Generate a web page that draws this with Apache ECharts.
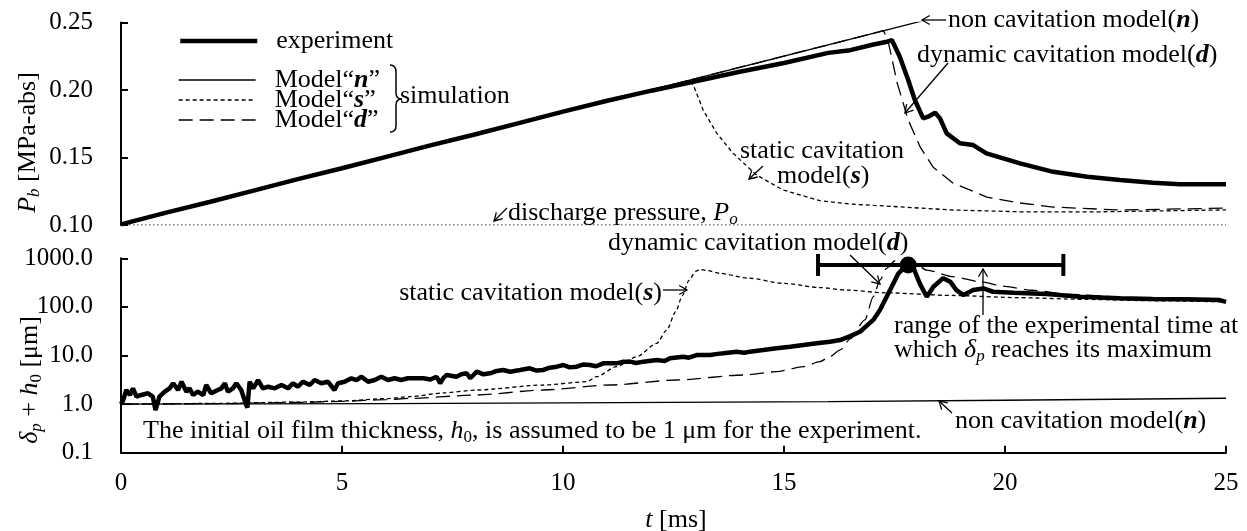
<!DOCTYPE html>
<html><head><meta charset="utf-8">
<script src="https://cdn.jsdelivr.net/npm/echarts@6/dist/echarts.min.js"></script>
<style>html,body{margin:0;padding:0;background:#fff}#c{width:1247px;height:531px}</style>
</head><body><div id="c"></div>
<script>
const FONT = '"Liberation Serif","Times New Roman",serif';

// ---- top panel: P_b [MPa-abs] vs t [ms]
const tTopExp = [0, 1, 2, 3, 4, 5, 6, 7, 8, 9, 10, 11, 12, 13, 14, 15, 16, 16.5, 17, 17.3, 17.44, 17.62, 17.81, 17.96, 18.15, 18.26, 18.42, 18.53, 18.68, 18.98, 19.28, 19.58, 20.34, 21.09, 21.86, 22.6, 23.35, 23.96, 25];
const pTopExp = [0.1005, 0.109, 0.117, 0.1255, 0.134, 0.142, 0.1505, 0.159, 0.167, 0.1755, 0.184, 0.192, 0.1995, 0.2065, 0.2135, 0.220, 0.2275, 0.2295, 0.2335, 0.2355, 0.237, 0.2247, 0.2074, 0.1926, 0.179, 0.1802, 0.1832, 0.179, 0.1679, 0.1605, 0.1592, 0.1531, 0.1457, 0.1394, 0.1357, 0.1333, 0.1313, 0.1301, 0.1301];
const tTopN = [0, 25];
const pTopN = [0.100, 0.3085];
const tTopS = [0, 12.85, 12.95, 13.17, 13.48, 13.85, 14.38, 14.98, 15.81, 16.5, 17.32, 18.82, 20.34, 22, 25];
const pTopS = [0.1, 0.2072, 0.2035, 0.1852, 0.1679, 0.1531, 0.137, 0.1259, 0.118, 0.1155, 0.114, 0.1111, 0.1098, 0.1097, 0.1112];
const tTopD = [0, 17.25, 17.35, 17.56, 17.81, 18.08, 18.37, 18.82, 19.59, 20.34, 21.09, 22.6, 25];
const pTopD = [0.1, 0.2439, 0.237, 0.2053, 0.1778, 0.1578, 0.143, 0.1311, 0.1207, 0.1163, 0.1133, 0.1111, 0.1125];
const tPo = [0, 25];
const pPo = [0.1, 0.1];

// ---- bottom panel: delta_p + h0 [um] (log) vs t [ms]
const tBotExp = [0.00,0.05,0.12,0.20,0.27,0.35,0.46,0.61,0.72,0.78,0.82,0.87,0.99,1.10,1.18,1.29,1.37,1.48,1.55,1.63,1.74,1.86,1.93,2.04,2.19,2.27,2.35,2.42,2.53,2.61,2.72,2.82,2.86,2.91,2.99,3.10,3.21,3.33,3.48,3.63,3.78,3.89,4.00,4.12,4.27,4.38,4.53,4.68,4.83,4.91,5.06,5.21,5.33,5.44,5.59,5.74,5.89,6.04,6.19,6.34,6.49,6.68,6.84,7.00,7.14,7.22,7.30,7.37,7.59,7.70,7.82,7.90,8.05,8.20,8.35,8.50,8.65,8.80,9.03,9.25,9.40,9.55,9.70,9.86,10.01,10.15,10.31,10.45,10.61,10.75,10.91,11.21,11.35,11.52,11.65,11.82,12.12,12.30,12.42,12.72,12.85,13.02,13.33,13.50,13.63,13.93,14.10,14.23,14.53,14.83,15.14,15.44,15.74,16.04,16.27,16.50,16.72,17.02,17.17,17.40,17.59,17.80,17.92,18.07,18.23,18.38,18.60,18.76,18.90,19.06,19.28,19.51,19.73,20.19,20.94,21.70,22.15,22.60,23.35,24.10,24.86,25.00];
const vBotExp = [1.00,1.21,1.95,1.54,2.11,1.42,1.54,1.67,1.42,0.75,0.70,1.42,1.80,2.11,2.68,1.95,2.89,1.80,2.11,1.54,1.80,1.54,2.47,1.67,1.95,2.11,2.68,1.80,2.11,2.68,1.95,1.04,0.85,2.89,2.11,3.13,2.11,2.28,2.11,2.47,2.11,2.68,2.28,2.89,2.47,3.13,2.68,2.89,1.95,2.68,2.89,3.40,3.13,3.66,2.89,3.13,3.66,3.13,3.40,3.13,3.40,3.39,3.39,3.2,3.66,2.68,3.5,3.97,3.66,4.1,4.30,3.40,4.64,4.1,4.30,4.8,5.03,4.64,5.03,5.45,4.9,5.03,5.6,5.89,6.38,5.7,5.89,6.5,6.38,6.0,6.9,6.9,7.4,7.47,7.0,7.47,8.08,7.7,8.75,9.46,9.0,10.2,10.2,10.8,11.1,12.0,11.4,12.0,13.0,14.1,15.2,16.4,17.8,19.2,20.8,25,30.8,54,86,222,490,760,670,305,162,260,390,330,222,175,222,240,205,196,184,162,157,150,145,143,138,127];
const tBotN = [0, 6, 10, 16, 20, 25];
const vBotN = [1.0, 1.02, 1.06, 1.12, 1.2, 1.32];
const tBotS = [0, 2, 4, 5, 6, 6.54, 7.3, 8.05, 9.55, 10.54, 10.76, 11.21, 11.67, 12.12, 12.35, 12.55, 12.7, 12.85, 13.0, 13.1, 13.25, 13.55, 14.2, 15.0, 15.8, 16.4, 17.3, 18.8, 20.3, 21.8, 23.3, 25];
const vBotS = [1.0, 1.03, 1.1, 1.16, 1.3, 1.42, 1.7, 1.95, 2.47, 2.89, 3.66, 5.89, 9.46, 17.8, 33.6, 80, 170, 350, 540, 590, 560, 490, 390, 305, 250, 222, 195, 172, 155, 143, 134, 127];
const tBotD = [0, 2, 4, 5, 6, 6.54, 8.05, 9.55, 11.06, 12.57, 14.08, 14.83, 15.44, 15.81, 16.04, 16.27, 16.5, 16.83, 17.02, 17.17, 17.32, 17.51, 17.7, 17.95, 18.23, 18.83, 19.43, 20, 20.6, 21.5, 23, 25];
const vBotD = [1.0, 1.02, 1.08, 1.14, 1.24, 1.31, 1.54, 1.95, 2.47, 3.13, 3.97, 4.64, 5.89, 7.47, 9.46, 13, 22, 54, 162, 355, 620, 890, 920, 800, 570, 418, 330, 265, 220, 180, 152, 130];
const tRange = [15.77, 21.32];
const vRange = [730, 730];
const tPeak = [17.81];
const vPeak = [730];

// tick labels
const xTicks = [0, 5, 10, 15, 20, 25];

const zip = (a, b) => a.map((x, i) => [x, b[i]]);

const RICH = {
  r: {fontSize: 26, fontFamily: FONT, lineHeight: 30, color: '#000'},
  i: {fontSize: 26, fontFamily: FONT, lineHeight: 30, fontStyle: 'italic', color: '#000'},
  bi: {fontSize: 26, fontFamily: FONT, lineHeight: 30, fontStyle: 'italic', fontWeight: 'bold', color: '#000'},
  sub: {fontSize: 17, fontFamily: FONT, lineHeight: 14, verticalAlign: 'bottom', color: '#000'},
  isub: {fontSize: 17, fontFamily: FONT, lineHeight: 14, verticalAlign: 'bottom', fontStyle: 'italic', color: '#000'}
};

const chart = echarts.init(document.getElementById('c'), null, {renderer: 'canvas'});

const axisLineStyle = {color: '#000', width: 2};
const tickLabel = {fontSize: 25, fontFamily: FONT, color: '#000'};

const mkLine = (name, xi, data, style, extra) => Object.assign({
  name, type: 'line', xAxisIndex: xi, yAxisIndex: xi, data,
  symbol: 'none', showSymbol: false, clip: true, silent: true,
  lineStyle: Object.assign({color: '#000'}, style), itemStyle: {color: '#000'},
  emphasis: {disabled: true}
}, extra || {});

const thin = 1.3;
const sDash = [4, 3];
const dDash = [14, 7];

function txt(x, y, text, align, rot) {
  return {
    type: 'text', x, y, rotation: rot || 0, silent: true, z: 100,
    style: {
      text, rich: RICH, fontSize: 26, fontFamily: FONT, fill: '#000', lineHeight: 30,
      align: align || 'left', verticalAlign: 'middle',
      textAlign: align || 'left', textVerticalAlign: 'middle'
    }
  };
}
const ST = {stroke: '#000', lineWidth: 1.3, fill: null};
function seg(x1, y1, x2, y2, w) {
  return {type: 'line', silent: true, z: 100, shape: {x1, y1, x2, y2}, style: Object.assign({}, ST, w ? {lineWidth: w} : {})};
}
function qcurve(x1, y1, cx, cy, x2, y2) {
  return {type: 'bezierCurve', silent: true, z: 100, shape: {x1, y1, cpx1: cx, cpy1: cy, x2, y2}, style: Object.assign({}, ST, {lineWidth: 1.5})};
}
function arrow(x1, y1, x2, y2) {
  const dx = x2 - x1, dy = y2 - y1, L = Math.hypot(dx, dy);
  const ux = dx / L, uy = dy / L, h = 9, a = Math.PI / 6;
  const c = Math.cos(a), s = Math.sin(a);
  const b1 = [x2 - h * (ux * c - uy * s), y2 - h * (uy * c + ux * s)];
  const b2 = [x2 - h * (ux * c + uy * s), y2 - h * (uy * c - ux * s)];
  return [
    {type: 'polyline', silent: true, z: 100, shape: {points: [[x1, y1], [x2, y2]]}, style: ST},
    {type: 'polyline', silent: true, z: 100, shape: {points: [b1, [x2, y2], b2]}, style: ST}
  ];
}

const legendText = {
  fontSize: 26, fontFamily: FONT, color: '#000', lineHeight: 20,
  rich: {
    r: {fontSize: 26, fontFamily: FONT, lineHeight: 20, color: '#000', padding: [0, 0, 0, 14]},
    q: {fontSize: 26, fontFamily: FONT, lineHeight: 20, color: '#000'},
    bi: {fontSize: 26, fontFamily: FONT, lineHeight: 20, color: '#000', fontStyle: 'italic', fontWeight: 'bold'}
  }
};
const legendFmt = (name) => {
  if (name === 'experiment') return '{r|experiment}';
  const k = name.split(' ')[1];
  return '{r|Model\u201c}{bi|' + k + '}{q|\u201d}';
};
const legendBase = {
  left: 178, orient: 'vertical', padding: 0, itemWidth: 77, itemHeight: 14,
  selectedMode: false, textStyle: legendText, formatter: legendFmt,
  itemStyle: {opacity: 0, borderWidth: 0}
};

const option = {
  animation: false,
  backgroundColor: '#fff',
  grid: [
    {left: 121, top: 22.5, width: 1105, height: 202.5},
    {left: 121, top: 258.3, width: 1105, height: 194.4}
  ],
  xAxis: [
    {gridIndex: 0, type: 'value', min: 0, max: 25, interval: 5, show: false},
    {gridIndex: 1, type: 'value', min: 0, max: 25, interval: 5,
      axisLine: {onZero: false, lineStyle: axisLineStyle},
      axisTick: {inside: true, length: 7, lineStyle: axisLineStyle},
      axisLabel: Object.assign({margin: 18, formatter: v => xTicks.includes(v) ? String(v) : ''}, tickLabel),
      splitLine: {show: false}}
  ],
  yAxis: [
    {gridIndex: 0, type: 'value', min: 0.1, max: 0.25, interval: 0.05,
      axisLine: {show: true, onZero: false, lineStyle: axisLineStyle},
      axisTick: {show: true, inside: true, length: 7, lineStyle: axisLineStyle},
      axisLabel: Object.assign({margin: 28, formatter: v => v.toFixed(2)}, tickLabel),
      splitLine: {show: false}},
    {gridIndex: 1, type: 'log', logBase: 10, min: 0.1, max: 1000,
      axisLine: {show: true, onZero: false, lineStyle: axisLineStyle},
      axisTick: {show: true, inside: true, length: 7, lineStyle: axisLineStyle},
      axisLabel: Object.assign({margin: 28, formatter: v => v.toFixed(1)}, tickLabel),
      splitLine: {show: false}, minorTick: {show: false}}
  ],
  legend: [
    Object.assign({}, legendBase, {
      data: [{name: 'experiment', lineStyle: {width: 4.5, type: 'solid', color: '#000'}}],
      top: 28, itemGap: 0}),
    Object.assign({}, legendBase, {
      data: [
        {name: 'Model n', lineStyle: {width: thin, type: 'solid', color: '#000'}},
        {name: 'Model s', lineStyle: {width: thin, type: sDash, color: '#000'}},
        {name: 'Model d', lineStyle: {width: thin, type: dDash, color: '#000'}}],
      top: 67, itemGap: -6})
  ],
  series: [
    mkLine('discharge', 0, zip(tPo, pPo), {width: 1.2, type: [1.5, 2.5]}),
    mkLine('experiment', 0, zip(tTopExp, pTopExp), {width: 4.5}),
    mkLine('Model n', 0, zip(tTopN, pTopN), {width: thin}),
    mkLine('Model s', 0, zip(tTopS, pTopS), {width: thin, type: sDash}),
    mkLine('Model d', 0, zip(tTopD, pTopD), {width: thin, type: dDash}),
    mkLine('experiment', 1, zip(tBotExp, vBotExp), {width: 4.5}),
    mkLine('Model n', 1, zip(tBotN, vBotN), {width: thin}),
    mkLine('Model s', 1, zip(tBotS, vBotS), {width: thin, type: sDash}, {smooth: 0.25, smoothMonotone: 'x'}),
    mkLine('Model d', 1, zip(tBotD, vBotD), {width: thin, type: dDash}, {smooth: 0.25, smoothMonotone: 'x'}),
    mkLine('range', 1, zip(tRange, vRange), {width: 4}, {symbol: 'rect', symbolSize: [4, 22], showSymbol: true}),
    {name: 'peak', type: 'scatter', xAxisIndex: 1, yAxisIndex: 1, data: zip(tPeak, vPeak),
      symbol: 'circle', symbolSize: 17, itemStyle: {color: '#000', opacity: 1}, silent: true, z: 10}
  ],
  graphic: [
    // top annotations
    txt(948, 20, 'non cavitation model({bi|n})'),
    txt(917, 55, 'dynamic cavitation model({bi|d})'),
    txt(740, 151.5, 'static cavitation'),
    txt(777, 176.5, 'model({bi|s})'),
    txt(508, 213, 'discharge pressure, {i|P}{isub|o}'),
    txt(400, 96.5, 'simulation'),
    // brace
    qcurve(390, 65, 396, 65, 396, 72),
    seg(396, 72, 396, 93, 1.5),
    qcurve(396, 93, 396, 99, 402, 99),
    qcurve(402, 99, 396, 99, 396, 105),
    seg(396, 105, 396, 126, 1.5),
    qcurve(396, 126, 396, 132, 390, 132),
    ...arrow(946, 20, 922, 20),
    ...arrow(948, 63, 905, 113),
    ...arrow(763, 166, 749, 179),
    ...arrow(507, 208, 494, 221),
    // bottom annotations
    txt(608, 243, 'dynamic cavitation model({bi|d})'),
    txt(662, 293, 'static cavitation model({bi|s})', 'right'),
    txt(894, 326.5, 'range of the experimental time at'),
    txt(894, 350, 'which {i|\u03b4}{isub|p} reaches its maximum'),
    txt(955, 421.5, 'non cavitation model({bi|n})'),
    txt(143, 431.5, 'The initial oil film thickness, {i|h}{sub|0}, is assumed to be 1 \u03bcm for the experiment.'),
    ...arrow(850, 255, 880, 284),
    ...arrow(663, 290, 687, 290),
    ...arrow(983, 315, 983, 269),
    ...arrow(952, 413, 939, 401),
    // axis titles
    txt(28, 142.5, '{i|P}{isub|b} [MPa-abs]', 'center', Math.PI / 2),
    txt(30, 380, '{i|\u03b4}{isub|p} + {i|h}{sub|0} [\u03bcm]', 'center', Math.PI / 2),
    txt(676, 520, '{i|t} [ms]', 'center')
  ]
};
chart.setOption(option);
</script>
</body></html>
